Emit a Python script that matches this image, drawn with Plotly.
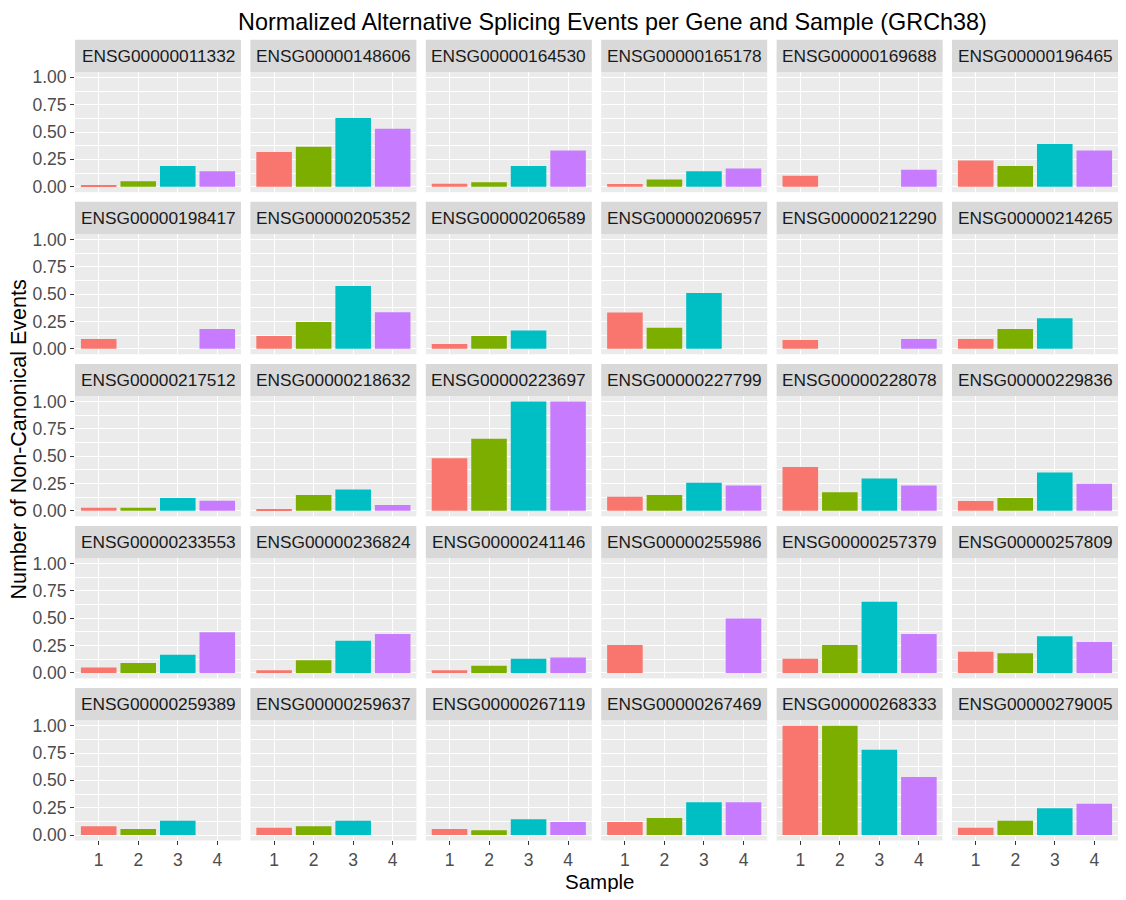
import plotly.graph_objects as go

genes = [
    "ENSG00000011332", "ENSG00000148606", "ENSG00000164530", "ENSG00000165178", "ENSG00000169688", "ENSG00000196465",
    "ENSG00000198417", "ENSG00000205352", "ENSG00000206589", "ENSG00000206957", "ENSG00000212290", "ENSG00000214265",
    "ENSG00000217512", "ENSG00000218632", "ENSG00000223697", "ENSG00000227799", "ENSG00000228078", "ENSG00000229836",
    "ENSG00000233553", "ENSG00000236824", "ENSG00000241146", "ENSG00000255986", "ENSG00000257379", "ENSG00000257809",
    "ENSG00000259389", "ENSG00000259637", "ENSG00000267119", "ENSG00000267469", "ENSG00000268333", "ENSG00000279005",
]
samples = [1, 2, 3, 4]

# values per sample (one list per sample, aligned with genes); None = no bar
sample1 = [0.015, 0.317, 0.027, 0.024, 0.10, 0.24,
           0.09, 0.116, 0.043, 0.332, 0.08, 0.09,
           0.028, 0.015, 0.48, 0.13, 0.40, 0.09,
           0.05, 0.025, 0.025, 0.255, 0.13, 0.194,
           0.08, 0.067, 0.055, 0.12, 1.0, 0.067]
sample2 = [0.05, 0.366, 0.04, 0.066, None, 0.19,
           None, 0.244, 0.116, 0.192, None, 0.18,
           0.028, 0.145, 0.66, 0.145, 0.17, 0.118,
           0.09, 0.117, 0.065, None, 0.255, 0.18,
           0.055, 0.08, 0.043, 0.156, 1.0, 0.13]
sample3 = [0.19, 0.628, 0.19, 0.14, None, 0.39,
           None, 0.573, 0.168, 0.509, None, 0.28,
           0.118, 0.195, 1.0, 0.257, 0.297, 0.35,
           0.166, 0.295, 0.13, None, 0.652, 0.335,
           0.13, 0.13, 0.144, 0.30, 0.78, 0.245]
sample4 = [0.14, 0.529, 0.33, 0.166, 0.154, 0.33,
           0.18, 0.335, None, None, 0.09, None,
           0.093, 0.053, 1.0, 0.232, 0.232, 0.248,
           0.372, 0.357, 0.14, 0.498, 0.357, 0.283,
           None, None, 0.12, 0.30, 0.53, 0.285]

colors = ["#F8766D", "#7CAE00", "#00BFC4", "#C77CFF"]
ytick_vals = [0, 0.25, 0.5, 0.75, 1.0]
ytick_text = ["0.00", "0.25", "0.50", "0.75", "1.00"]

# page body has an 8px margin; figure fits inside the 1126x900 window
OFF = 8
W, H = 1126 - 2 * OFF, 900 - 2 * OFF
FONT = "Liberation Sans, Arial, sans-serif"


def px(xp):
    return (xp - OFF) / W


def py(yp):
    return 1 - (yp - OFF) / H


fig = go.Figure()
layout = dict(
    width=W, height=H, margin=dict(l=0, r=0, t=0, b=0),
    paper_bgcolor="white", plot_bgcolor="#EBEBEB", showlegend=False,
    bargap=0.1, shapes=[], annotations=[],
)

ROWP = 163.75
for i, g in enumerate(genes):
    r, c = divmod(i, 6)
    k = i + 1
    xname = "xaxis" if k == 1 else f"xaxis{k}"
    yname = "yaxis" if k == 1 else f"yaxis{k}"
    xref = "x" if k == 1 else f"x{k}"
    yref = "y" if k == 1 else f"y{k}"
    x0 = 75 + c * 175.4
    x1 = x0 + 166
    top = 68.5 + r * ROWP
    bot = 190 + r * ROWP
    stop = 36 + r * ROWP

    vals = [sample1[i], sample2[i], sample3[i], sample4[i]]
    fig.add_trace(go.Bar(
        x=samples, y=vals, marker=dict(color=colors, line=dict(width=0)),
        xaxis=xref, yaxis=yref, width=0.9, hoverinfo="x+y",
    ))

    layout[xname] = dict(
        domain=[px(x0), min(px(x1), 1.0)], anchor=yref, range=[0.4, 4.6],
        tickvals=samples, ticktext=[str(s) for s in samples],
        showticklabels=(r == 4), ticks="outside" if r == 4 else "",
        ticklen=4, tickcolor="#333333", tickwidth=1.1,
        tickfont=dict(family=FONT, size=17.5, color="#4D4D4D"),
        showgrid=True, gridcolor="white", gridwidth=1.1,
        zeroline=False, showline=False, fixedrange=True,
    )
    layout[yname] = dict(
        domain=[py(bot), py(top)], anchor=xref, range=[-0.05, 1.05],
        tickvals=ytick_vals, ticktext=ytick_text,
        showticklabels=(c == 0), ticks="outside" if c == 0 else "",
        ticklen=4, tickcolor="#333333", tickwidth=1.1,
        tickfont=dict(family=FONT, size=17.5, color="#4D4D4D"),
        showgrid=True, gridcolor="white", gridwidth=1.1,
        minor=dict(tickvals=[0.125, 0.375, 0.625, 0.875], showgrid=True,
                   gridcolor="white", gridwidth=0.55, ticks=""),
        zeroline=False, showline=False, fixedrange=True,
    )
    layout["shapes"].append(dict(
        type="rect", xref="paper", yref="paper",
        x0=px(x0), x1=min(px(x1), 1.0), y0=py(top), y1=py(stop),
        fillcolor="#D9D9D9", line=dict(width=0), layer="below",
    ))
    layout["annotations"].append(dict(
        text=g, xref="paper", yref="paper",
        x=px((x0 + x1) / 2), y=py((stop + top) / 2),
        xanchor="center", yanchor="middle", showarrow=False,
        font=dict(family=FONT, size=17.3, color="#1A1A1A"),
    ))

layout["annotations"].append(dict(
    text="Normalized Alternative Splicing Events per Gene and Sample (GRCh38)",
    xref="paper", yref="paper", x=px(612), y=py(18),
    xanchor="center", yanchor="middle", showarrow=False,
    font=dict(family=FONT, size=23.4, color="black"),
))
layout["annotations"].append(dict(
    text="Sample", xref="paper", yref="paper", x=px(600), y=py(886),
    xanchor="center", yanchor="middle", showarrow=False,
    font=dict(family=FONT, size=20.5, color="black"),
))
layout["annotations"].append(dict(
    text="Number of Non-Canonical Events", xref="paper", yref="paper",
    x=px(19), y=py(440), textangle=-90,
    xanchor="center", yanchor="middle", showarrow=False,
    font=dict(family=FONT, size=21.5, color="black"),
))

fig.update_layout(**layout)
fig.write_html("out.html")
